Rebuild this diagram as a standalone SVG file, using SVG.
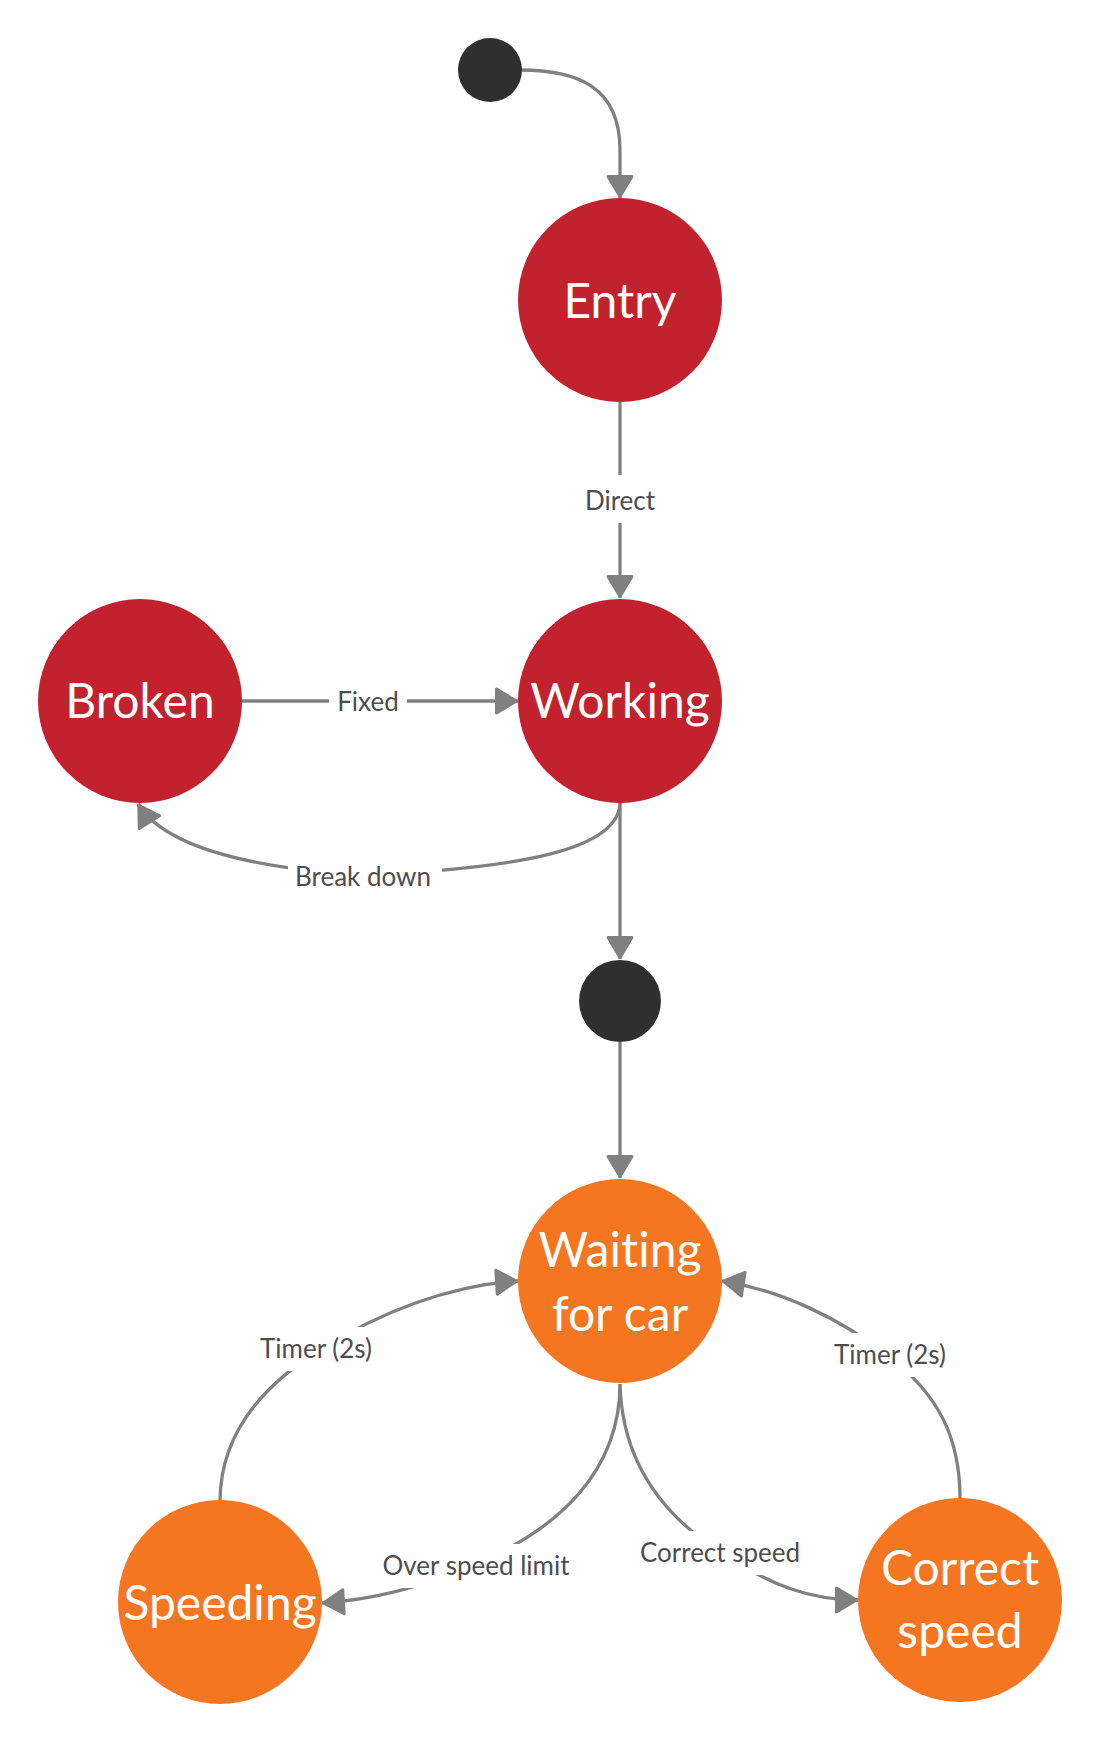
<svg xmlns="http://www.w3.org/2000/svg" width="1100" height="1740" viewBox="0 0 1100 1740">
<style>
.red{fill:#C1222D}
.org{fill:#F47621}
.dot{fill:#2F2F2F}
.nt{font-family:Lato,"Liberation Sans",sans-serif;font-size:48px;fill:#FFFFFF;text-anchor:middle;font-variant-ligatures:none}
.lt{font-family:Lato,"Liberation Sans",sans-serif;font-size:26px;fill:#4D4D4D;text-anchor:middle;font-variant-ligatures:none}
.edge{fill:none;stroke:#808080;stroke-width:3.3;marker-end:url(#arr)}
.bg{fill:#FFFFFF}
</style>
<defs>
<marker id="arr" markerUnits="userSpaceOnUse" viewBox="-25 -16 27 32" refX="0" refY="0" markerWidth="27" markerHeight="32" orient="auto">
<path d="M-1.5,0 L-21.5,-12 L-21.5,12 Z" fill="#808080" stroke="#808080" stroke-width="3" stroke-linejoin="round"/>
</marker>
</defs>
<rect width="1100" height="1740" fill="#FFFFFF"/>
<g id="connectors">
<path class="edge" d="M520,70 C575,70 620,85 620,150 L620,198"/>
<path class="edge" d="M620,402 L620,598"/>
<rect class="bg" x="582" y="475" width="76" height="48"/>
<text class="lt" x="620" y="510">Direct</text>
<path class="edge" d="M242,701 L518,701"/>
<rect class="bg" x="329" y="680" width="78" height="44"/>
<text class="lt" x="368" y="711">Fixed</text>
<path class="edge" d="M620,802 C620,850 520,868 365,875 C280,870 170,855 138,804"/>
<rect class="bg" x="288" y="855" width="154" height="44"/>
<text class="lt" x="363" y="886">Break down</text>
<path class="edge" d="M620,802 L620,959"/>
<path class="edge" d="M620,1042 L620,1178"/>
<path class="edge" d="M620,1384 C620,1470 560,1530 470,1566 C420,1588 370,1600 322,1603"/>
<rect class="bg" x="374" y="1544" width="204" height="44"/>
<text class="lt" x="476" y="1575">Over speed limit</text>
<path class="edge" d="M620,1384 C622,1460 660,1515 725,1555 C770,1585 810,1600 858,1600"/>
<rect class="bg" x="632" y="1531" width="176" height="44"/>
<text class="lt" x="720" y="1562">Correct speed</text>
<path class="edge" d="M220,1502 C220,1440 255,1390 320,1350 C380,1312 450,1285 518,1281"/>
<rect class="bg" x="254" y="1327" width="124" height="44"/>
<text class="lt" x="316" y="1358">Timer (2s)</text>
<path class="edge" d="M960,1498 C960,1440 940,1395 888,1356 C840,1318 780,1290 722,1281"/>
<rect class="bg" x="828" y="1333" width="124" height="44"/>
<text class="lt" x="890" y="1364">Timer (2s)</text>
</g>
<g id="start"><circle class="dot" cx="490" cy="70" r="32"/></g>
<g id="entry"><circle class="red" cx="620" cy="300" r="102"/><text class="nt" x="620" y="318">Entry</text></g>
<g id="working"><circle class="red" cx="620" cy="701" r="102"/><text class="nt" x="620" y="718">Working</text></g>
<g id="broken"><circle class="red" cx="140" cy="701" r="102"/><text class="nt" x="140" y="718">Broken</text></g>
<g id="junction"><circle class="dot" cx="620" cy="1001" r="41"/></g>
<g id="waiting"><circle class="org" cx="620" cy="1281" r="102"/><text class="nt" x="620" y="1267">Waiting</text><text class="nt" x="620" y="1331">for car</text></g>
<g id="speeding"><circle class="org" cx="220" cy="1602" r="102"/><text class="nt" x="220" y="1620">Speeding</text></g>
<g id="correct"><circle class="org" cx="960" cy="1600" r="102"/><text class="nt" x="960" y="1585">Correct</text><text class="nt" x="960" y="1648">speed</text></g>
</svg>
